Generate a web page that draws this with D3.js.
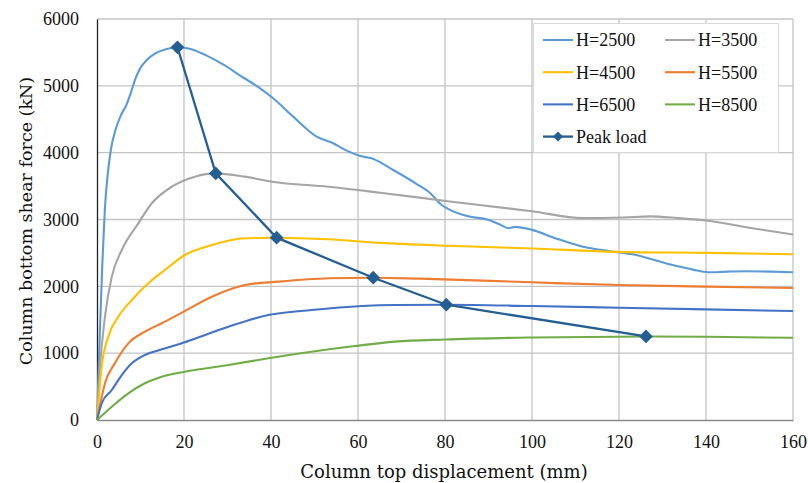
<!DOCTYPE html>
<html>
<head>
<meta charset="utf-8">
<script src="https://cdn.jsdelivr.net/npm/d3@7"></script>
<style>
  html, body { margin: 0; padding: 0; background: #fff; }
  svg text { fill: #111; }
  .tick-label, .legend-label { font-family: "Liberation Serif", serif; font-size: 18px; }
  .axis-title { font-family: "DejaVu Serif", serif; font-size: 18px; }
  .axis-title.y-title { font-size: 17.5px; }
</style>
</head>
<body>
<svg id="chart" width="808" height="483"></svg>
<script>
// Displacement (mm) / shear force (kN) for each column height
const h2500X = [0, 0.6, 1.2, 1.8, 2.5, 3.2, 4.3, 5.5, 6.8, 7.8, 8.8, 10, 11.5, 13.5, 16, 18.5, 21, 25, 29, 33, 37.5, 40.5, 45.1, 50.5, 54.3, 57.4, 60.5, 63.1, 68.1, 73.6, 76.5, 79.1, 80.6, 85.3, 89.9, 92.5, 94.6, 96.1, 100, 105.5, 111.7, 117.9, 123.4, 131.1, 137, 140.5, 145, 149, 155, 160];
const h2500Y = [0, 1200, 2300, 3150, 3700, 4050, 4350, 4560, 4720, 4900, 5100, 5270, 5390, 5490, 5550, 5577, 5560, 5460, 5320, 5150, 4963, 4814, 4539, 4240, 4140, 4030, 3950, 3915, 3741, 3527, 3400, 3225, 3163, 3047, 2996, 2930, 2870, 2889, 2845, 2717, 2592, 2526, 2475, 2339, 2250, 2210, 2220, 2225, 2220, 2210];

const h3500X = [0, 0.69, 1.84, 3.4, 5.7, 9.5, 12.6, 17.2, 22.5, 27.3, 34, 40.2, 53.2, 65.1, 80.6, 100, 111.7, 121, 127.2, 133.5, 140.5, 150.6, 160];
const h3500Y = [0, 800, 1550, 2145, 2544, 2943, 3243, 3491, 3641, 3690, 3641, 3566, 3491, 3401, 3274, 3123, 3021, 3031, 3047, 3021, 2981, 2870, 2775];

const h4500X = [0, 1.07, 2.6, 4.9, 8.0, 11.8, 15.6, 20.2, 26.4, 34, 41.3, 53.2, 65.1, 80.6, 100, 119.4, 140.5, 160];
const h4500Y = [0, 800, 1247, 1546, 1796, 2045, 2244, 2469, 2619, 2719, 2728, 2704, 2650, 2607, 2566, 2516, 2500, 2480];

const h5500X = [0, 1.0, 1.84, 4.1, 7.2, 11, 14.9, 19.5, 26.4, 34, 41.7, 53.2, 63.5, 74.3, 100, 120, 140, 160];
const h5500Y = [0, 320, 549, 848, 1147, 1322, 1447, 1606, 1845, 2020, 2070, 2120, 2129, 2115, 2060, 2020, 1995, 1975];

const h6500X = [0, 1.07, 3.4, 5.7, 8.0, 11, 14.9, 19.8, 30.2, 39.4, 49.3, 60.9, 68.5, 80.3, 100, 120, 140, 160];
const h6500Y = [0, 250, 449, 673, 848, 973, 1057, 1157, 1396, 1571, 1646, 1706, 1721, 1725, 1705, 1680, 1655, 1630];

const h8500X = [0, 3.4, 7.2, 11, 14.9, 20.2, 30.2, 39.4, 49.3, 59.3, 68.5, 80, 100, 126.2, 140, 160];
const h8500Y = [0, 199, 399, 549, 648, 723, 823, 923, 1022, 1107, 1172, 1205, 1235, 1250, 1245, 1230];

// Peak load of each curve
const peakX = [18.5, 27.3, 41.3, 63.5, 80.3, 126.2];
const peakY = [5577, 3690, 2728, 2129, 1725, 1250];

const seriesNames = ["H=2500", "H=3500", "H=4500", "H=5500", "H=6500", "H=8500"];
const seriesColors = ["#5b9bd5", "#a5a5a5", "#ffc000", "#ed7d31", "#4472c4", "#70ad47"];
const seriesX = [h2500X, h3500X, h4500X, h5500X, h6500X, h8500X];
const seriesY = [h2500Y, h3500Y, h4500Y, h5500Y, h6500Y, h8500Y];
const peakName = "Peak load";
const peakColor = "#255e91";

const xTicks = [0, 20, 40, 60, 80, 100, 120, 140, 160];
const yTicks = [0, 1000, 2000, 3000, 4000, 5000, 6000];
const xTitle = "Column top displacement (mm)";
const yTitle = "Column bottom shear force (kN)";

const svg = d3.select("#chart");
const plotL = 97, plotR = 793, plotT = 19, plotB = 420;

const x = d3.scaleLinear().domain([0, 160]).range([plotL, plotR]);
const y = d3.scaleLinear().domain([0, 6000]).range([plotB, plotT]);

// gridlines
const grid = svg.append("g");
grid.selectAll("line.v").data(xTicks.filter(d => d > 0)).join("line")
  .attr("x1", d => x(d)).attr("x2", d => x(d))
  .attr("y1", plotT).attr("y2", plotB)
  .attr("stroke", "#c4c4c4").attr("stroke-width", 1.3);
grid.selectAll("line.h").data(yTicks.filter(d => d > 0)).join("line")
  .attr("x1", plotL).attr("x2", plotR)
  .attr("y1", d => y(d)).attr("y2", d => y(d))
  .attr("stroke", "#c4c4c4").attr("stroke-width", 1.3);

// axes
const xAxis = svg.append("g").attr("transform", `translate(0,${plotB})`)
  .call(d3.axisBottom(x).tickValues(xTicks).tickSize(0).tickPadding(15).tickFormat(d3.format("d")));
xAxis.select(".domain").attr("stroke", "#8a8a8a").attr("stroke-width", 1.5);
xAxis.selectAll("text").attr("class", "tick-label");

const yAxis = svg.append("g").attr("transform", `translate(${plotL},0)`)
  .call(d3.axisLeft(y).tickValues(yTicks).tickSize(0).tickPadding(18).tickFormat(d3.format("d")));
yAxis.select(".domain").attr("stroke", "#222").attr("stroke-width", 1.3);
yAxis.selectAll("text").attr("class", "tick-label");
svg.selectAll("g.tick text").style("fill", "#111");
xAxis.attr("font-family", null).attr("font-size", null);
yAxis.attr("font-family", null).attr("font-size", null);

// axis titles
svg.append("text").attr("class", "axis-title").attr("x", 444).attr("y", 478)
  .attr("text-anchor", "middle").text(xTitle);
svg.append("text").attr("class", "axis-title y-title").attr("transform", `translate(32,${221}) rotate(-90)`)
  .attr("text-anchor", "middle").text(yTitle);

// curves
const line = d3.line().curve(d3.curveMonotoneX)
  .x(d => x(d[0])).y(d => y(d[1]));
const plot = svg.append("g");
seriesX.forEach((xs, i) => {
  const pts = xs.map((v, j) => [v, seriesY[i][j]]);
  plot.append("path").attr("d", line(pts))
    .attr("fill", "none").attr("stroke", seriesColors[i])
    .attr("stroke-width", 2.1).attr("stroke-linejoin", "round");
});

// peak load polyline and markers
const peakPts = peakX.map((v, j) => [v, peakY[j]]);
plot.append("path").attr("d", d3.line().x(d => x(d[0])).y(d => y(d[1]))(peakPts))
  .attr("fill", "none").attr("stroke", peakColor).attr("stroke-width", 2.3);
const diamond = d3.symbol().type(d3.symbolSquare).size(95);
plot.selectAll("path.pk").data(peakPts).join("path")
  .attr("d", diamond())
  .attr("transform", d => `translate(${x(d[0])},${y(d[1])}) rotate(45)`)
  .attr("fill", peakColor);

// legend
const lg = svg.append("g");
lg.append("rect").attr("x", 533.5).attr("y", 23.5).attr("width", 245).attr("height", 129)
  .attr("fill", "#fff").attr("stroke", "#d9d9d9").attr("stroke-width", 1);
const legendItems = seriesNames.map((n, i) => ({name: n, color: seriesColors[i], peak: false}))
  .concat([{name: peakName, color: peakColor, peak: true}]);
legendItems.forEach((d, i) => {
  const col = i % 2, row = Math.floor(i / 2);
  const lx = 543 + col * 122, ly = 40 + row * 32.2;
  lg.append("line").attr("x1", lx).attr("x2", lx + 30).attr("y1", ly).attr("y2", ly)
    .attr("stroke", d.color).attr("stroke-width", d.peak ? 2.3 : 2.1);
  if (d.peak) {
    lg.append("path").attr("d", d3.symbol().type(d3.symbolSquare).size(50)())
      .attr("transform", `translate(${lx + 15},${ly}) rotate(45)`).attr("fill", d.color);
  }
  lg.append("text").attr("class", "legend-label").attr("x", lx + 33).attr("y", ly).attr("dy", "0.35em")
    .text(d.name);
});
</script>
</body>
</html>
